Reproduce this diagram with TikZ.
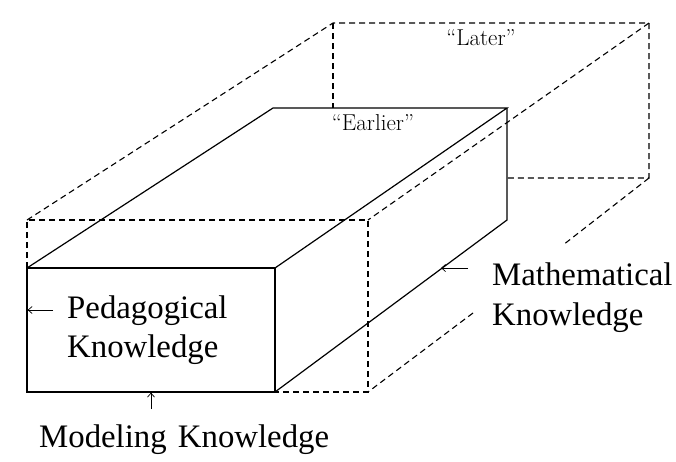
\documentclass[tikz,border=0pt]{standalone}
\usepackage{fontspec}
\newfontfamily\tnr{Liberation Serif}
\usetikzlibrary{arrows.meta}
\tikzset{
  solidedge/.style={line width=1.2pt, line join=miter},
  hidden/.style={line width=1.1pt, dash pattern=on 6pt off 4pt},
  pointer/.style={line width=0.7pt, -{Straight Barb[length=4pt,width=7pt]}},
  biglabel/.style={inner sep=0pt, anchor=base west, font=\tnr\fontsize{32.8}{40}\selectfont},
  smalllabel/.style={inner sep=0pt, anchor=base, font=\fontsize{23}{27}\selectfont}
}
\begin{document}
\begin{tikzpicture}[x=1pt,y=-1pt]
\useasboundingbox (0,0) rectangle (676,461);
% solid box corners
\coordinate (A) at (27,268);
\coordinate (B) at (275,268);
\coordinate (C) at (275,392);
\coordinate (D) at (27,392);
\coordinate (E) at (273,108);
\coordinate (F) at (507,108);
\coordinate (G) at (507,220);
% dashed box corners
\coordinate (P) at (27,220);
\coordinate (Q) at (368,220);
\coordinate (R) at (368,392);
\coordinate (S) at (333,23);
\coordinate (T) at (649,23);
\coordinate (U) at (649,178);
\coordinate (Sb) at (333,108);
\coordinate (Ub) at (507,178);
\coordinate (M1) at (563,245);
\coordinate (M2) at (473,313);
% hidden edges
\draw[hidden] (A) -- (P) -- (Q) -- (R) -- (C);
\draw[hidden] (P) -- (S) -- (T) -- (U) -- (Ub);
\draw[hidden] (S) -- (Sb);
\draw[hidden] (T) -- (Q);
\draw[hidden] (U) -- (M1);
\draw[hidden] (M2) -- (R);
% solid box
\draw[solidedge] (A) -- (B) -- (C) -- (D) -- cycle;
\draw[solidedge] (A) -- (E) -- (F) -- (B);
\draw[solidedge] (F) -- (G) -- (C);
% labels
\node[smalllabel] (later) at (481,45) {``Later''};
\node[smalllabel] (earlier) at (373,130) {``Earlier''};
\node[biglabel] (ped1) at (67,318) {Pedagogical};
\node[biglabel] (ped2) at (67,357) {Knowledge};
\node[biglabel] (mat1) at (492,285) {Mathematical};
\node[biglabel] (mat2) at (492,325) {Knowledge};
\node[biglabel] (mod) at (39,447) {Modeling\hspace{3pt} Knowledge};
% pointers
\coordinate (pa0) at (53,310);
\coordinate (pa1) at (27.6,310);
\coordinate (ma0) at (468,268);
\coordinate (ma1) at (441,268);
\coordinate (mo0) at (151,409);
\coordinate (mo1) at (151,392.6);
\draw[pointer] (pa0) -- (pa1);
\draw[pointer] (ma0) -- (ma1);
\draw[pointer] (mo0) -- (mo1);
\end{tikzpicture}
\end{document}
